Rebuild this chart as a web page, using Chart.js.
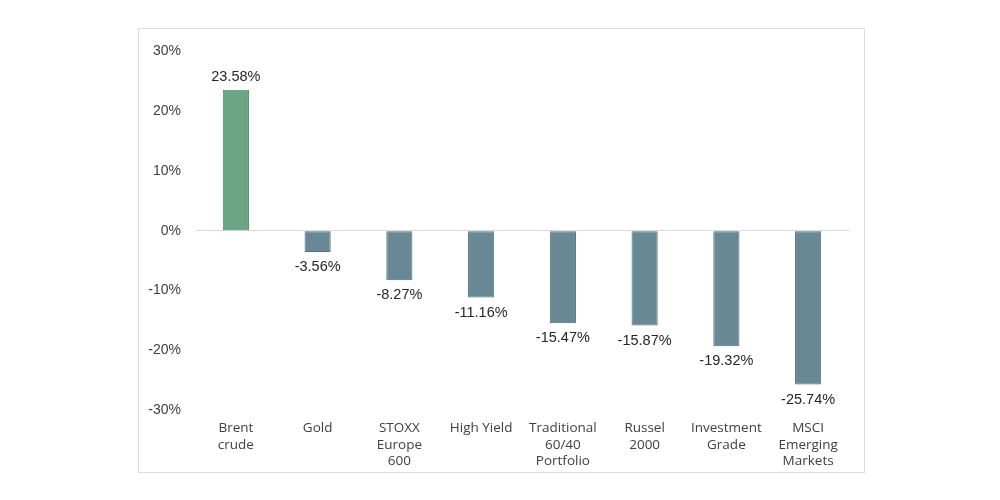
<!DOCTYPE html>
<html>
<head>
<meta charset="utf-8">
<script src="https://cdn.jsdelivr.net/npm/chart.js@4"></script>
<style>
    html, body { margin: 0; padding: 0; background: #fff; }
    body { width: 1000px; height: 500px; position: relative; }
    #box {
        position: absolute; left: 138px; top: 28px;
        width: 727px; height: 445px; box-sizing: border-box;
        border: 1px solid #dcdcdc;
    }
</style>
</head>
<body>
<div id="box"><canvas id="chart"></canvas></div>
<script>
const categories = [
    ['Brent', 'crude'],
    ['Gold'],
    ['STOXX', 'Europe', '600'],
    ['High Yield'],
    ['Traditional', '60/40', 'Portfolio'],
    ['Russel', '2000'],
    ['Investment', 'Grade'],
    ['MSCI', 'Emerging', 'Markets']
];
const returns = [23.58, -3.56, -8.27, -11.16, -15.47, -15.87, -19.32, -25.74];
const yTicks = [30, 20, 10, 0, -10, -20, -30];

const posFill = '#6aa584', posEdge = '#4f8a68';
const negFill = '#698896', negEdge = '#52707e';

const valueLabels = {
    id: 'valueLabels',
    afterDatasetsDraw(chart) {
        const ctx = chart.ctx;
        const meta = chart.getDatasetMeta(0);
        ctx.save();
        ctx.font = '14.5px "Liberation Sans", Arial, sans-serif';
        ctx.fillStyle = '#262626';
        ctx.textAlign = 'center';
        meta.data.forEach((bar, i) => {
            const v = returns[i];
            const txt = v.toFixed(2) + '%';
            if (v >= 0) {
                ctx.textBaseline = 'bottom';
                ctx.fillText(txt, bar.x, bar.y - 6);
            } else {
                ctx.textBaseline = 'top';
                ctx.fillText(txt, bar.x, bar.y + 8);
            }
        });
        ctx.restore();
    }
};

new Chart(document.getElementById('chart'), {
    type: 'bar',
    data: {
        labels: categories,
        datasets: [{
            data: returns,
            backgroundColor: returns.map(v => v >= 0 ? posFill : negFill),
            borderColor: returns.map(v => v >= 0 ? posEdge : negEdge),
            borderWidth: 1,
            borderSkipped: false,
            barPercentage: 0.64,
            categoryPercentage: 0.5
        }]
    },
    options: {
        responsive: true,
        maintainAspectRatio: false,
        animation: false,
        layout: { padding: { top: 20, right: 15, bottom: 0, left: 0 } },
        plugins: { legend: { display: false }, tooltip: { enabled: false } },
        scales: {
            y: {
                min: -30, max: 30,
                afterFit: s => { s.width = 56; },
                afterBuildTicks: s => { s.ticks = yTicks.map(v => ({ value: v })); },
                border: { display: false },
                grid: {
                    drawTicks: false,
                    color: c => c.tick && c.tick.value === 0 ? '#d9d9d9' : 'rgba(0,0,0,0)',
                    lineWidth: 1
                },
                ticks: {
                    padding: 14,
                    color: '#404040',
                    font: { family: '"Liberation Sans", Arial, sans-serif', size: 14 },
                    callback: v => v + '%'
                }
            },
            x: {
                afterFit: s => { s.height = 62; },
                border: { display: false },
                grid: { display: false, drawTicks: false },
                ticks: {
                    padding: 10,
                    maxRotation: 0,
                    autoSkip: false,
                    color: '#404040',
                    font: { family: '"Open Sans", sans-serif', size: 13.5, lineHeight: 1.22 }
                }
            }
        }
    },
    plugins: [valueLabels]
});
</script>
</body>
</html>
